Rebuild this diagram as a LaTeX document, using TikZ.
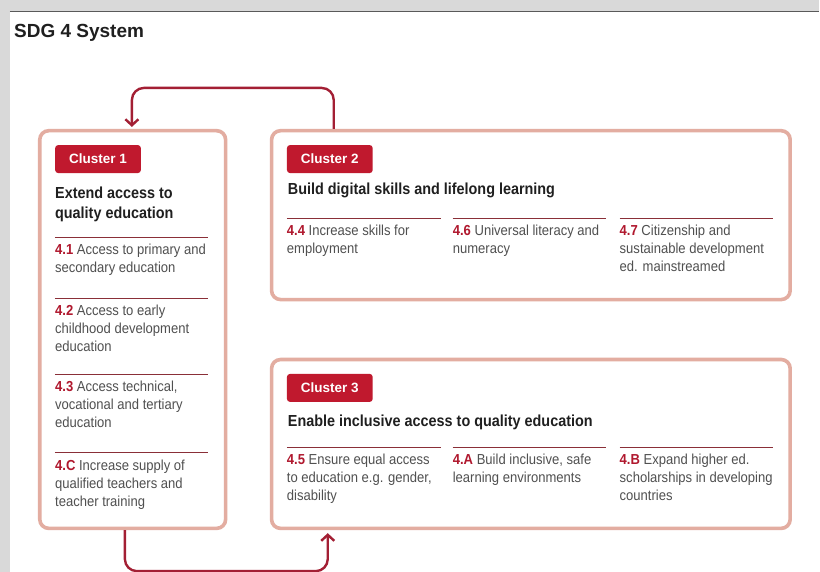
\documentclass[tikz,border=0pt]{standalone}
\usepackage{fontspec}
\setmainfont[FakeStretch=0.9]{Liberation Sans}
\newfontfamily\headfont{Liberation Sans}
\usetikzlibrary{positioning,arrows.meta}

\definecolor{boxline}{HTML}{E3ADA1}
\definecolor{flowred}{HTML}{A31F34}
\definecolor{tagred}{HTML}{C0192E}
\definecolor{numred}{HTML}{B0182E}
\definecolor{ruleline}{HTML}{8A2F38}
\definecolor{bodygray}{HTML}{505050}
\definecolor{pagegray}{HTML}{D9D9D9}

\tikzset{
  cluster/.style={draw=boxline, line width=3.6pt, rounded corners=9pt, fill=white,
    inner sep=0pt, anchor=north west},
  tag/.style={fill=tagred, text=white, rounded corners=3pt, anchor=north west,
    font=\headfont\bfseries\fontsize{13.5}{15}\selectfont, inner xsep=14pt,
    minimum height=28pt},
  heading/.style={inner sep=0pt, align=left, text=black!88,
    font=\bfseries\fontsize{16}{20}\selectfont},
  goal/.style={anchor=north west, inner xsep=0pt, inner ysep=6.6pt, align=left,
    text=bodygray, font=\fontsize{14.5}{18}\selectfont},
  rule/.style={draw=ruleline, line width=1.1pt},
  flow/.style={draw=flowred, line width=2.4pt, rounded corners=12pt,
    -{Straight Barb[length=6pt,width=13pt]}},
}
\newcommand{\gnum}[1]{\textcolor{numred}{\textbf{#1}}}

\begin{document}
\begin{tikzpicture}[x=1pt,y=-1pt]
  % page
  \fill[pagegray] (0,0) rectangle (820,572);
  \fill[white] (10,12) rectangle (820,572);
  \draw[black!65, line width=1.3pt] (10,11.5) -- (820,11.5);
  \useasboundingbox (0,0) rectangle (820,572);

  \node[anchor=base west, inner sep=0pt, text=black!88,
    font=\headfont\bfseries\fontsize{19}{22}\selectfont] (title) at (14,37.3) {SDG 4 System};

  % cluster boxes
  \node[cluster, minimum width=186pt, minimum height=398pt] (c1) at (38,129) {};
  \node[cluster, minimum width=519pt, minimum height=169pt] (c2) at (270,129) {};
  \node[cluster, minimum width=519pt, minimum height=169pt] (c3) at (270,358) {};

  % cluster 1
  \node[tag] (t1) at (55,145) {Cluster 1};
  \node[heading, anchor=north west] (h1) at (55,186.5) {Extend access to\\quality education};
  \node[goal] (g41) at (55,237.7) {\gnum{4.1} Access to primary and\\secondary education};
  \node[goal] (g42) at (55,298.3) {\gnum{4.2} Access to early\\childhood development\\education};
  \node[goal] (g43) at (55,375) {\gnum{4.3} Access technical,\\vocational and tertiary\\education};
  \node[goal] (g4C) at (55,453.3) {\gnum{4.C} Increase supply of\\qualified teachers and\\teacher training};

  % cluster 2
  \node[tag] (t2) at (287,145) {Cluster 2};
  \node[heading, anchor=base west] (h2) at (288,194.5) {Build digital skills and lifelong learning};
  \node[goal] (g44) at (287,218.5) {\gnum{4.4} Increase skills for\\employment};
  \node[goal] (g46) at (453,218.5) {\gnum{4.6} Universal literacy and\\numeracy};
  \node[goal] (g47) at (620,218.5) {\gnum{4.7} Citizenship and\\sustainable development\\ed. mainstreamed};

  % cluster 3
  \node[tag] (t3) at (287,374) {Cluster 3};
  \node[heading, anchor=base west] (h3) at (288,426.5) {Enable inclusive access to quality education};
  \node[goal] (g45) at (287,448) {\gnum{4.5} Ensure equal access\\to education e.g. gender,\\disability};
  \node[goal] (g4A) at (453,448) {\gnum{4.A} Build inclusive, safe\\learning environments};
  \node[goal] (g4B) at (620,448) {\gnum{4.B} Expand higher ed.\\scholarships in developing\\countries};

  \foreach \g/\w in {g41/153, g42/153, g43/153, g4C/153, g44/154, g46/153,
      g47/154, g45/154, g4A/153, g4B/154}
    \draw[rule] (\g.north west) -- ++(\w,0);

  % loop between clusters
  \draw[flow, shorten >=2pt] ([xshift=64pt]c2.north west) -- ++(0,-41)
    -| ([xshift=94pt]c1.north west);
  \draw[flow, shorten >=3pt] ([xshift=87pt]c1.south west) -- ++(0,41)
    -| ([xshift=58pt]c3.south west);
\end{tikzpicture}
\end{document}
